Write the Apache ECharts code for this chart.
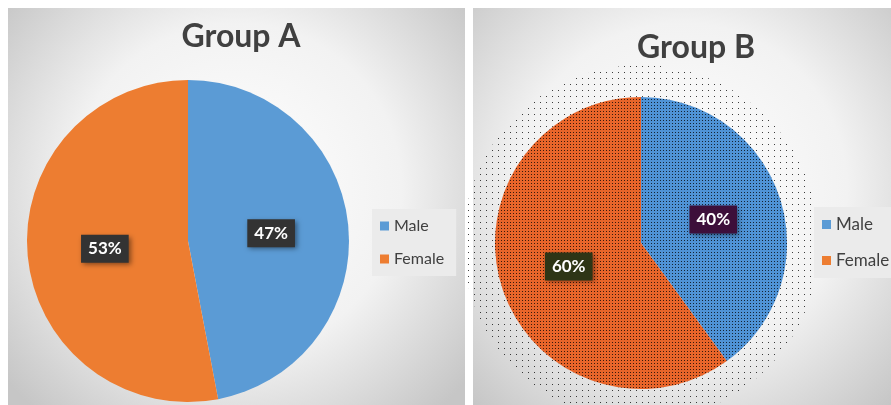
<!DOCTYPE html>
<html>
<head>
<meta charset="utf-8">
<script src="https://cdn.jsdelivr.net/npm/echarts@6/dist/echarts.min.js"></script>
<style>
html,body{margin:0;padding:0;background:#ffffff;}
#c{width:891px;height:405px;}
</style>
</head>
<body>
<div id="c"></div>
<script>
const categories = ['Male', 'Female'];
const groupAValues = [47, 53];
const groupBValues = [40, 60];
const titles = ['Group A', 'Group B'];

const FONT = 'Lato, "Open Sans", sans-serif';
const blue = '#5b9bd5', orange = '#ed7d31';

function panelBg(x, w) {
  return {
    type: 'rect', z: -10, silent: true,
    shape: { x: x, y: 8, width: w, height: 400 },
    style: {
      fill: { type: 'radial', x: 0.5, y: 0.45, r: 0.75,
        colorStops: [{ offset: 0, color: '#ffffff' }, { offset: 0.55, color: '#f2f2f2' }, { offset: 1, color: '#c6c6c6' }] }
    }
  };
}

const dotDecal = {
  symbol: 'rect', symbolSize: 1,
  dashArrayX: [1, 2], dashArrayY: [1, 2],
  color: 'rgba(0,0,0,0.75)'
};
const haloDecal = {
  symbol: 'rect', symbolSize: 1,
  dashArrayX: [1, 5], dashArrayY: [1, 5],
  color: 'rgba(0,0,0,0.75)'
};

function labelStyle(bg) {
  return {
    show: true, position: 'inside',
    formatter: p => p.value + '%',
    color: '#ffffff', fontFamily: FONT, fontWeight: 'bold', fontSize: 17,
    backgroundColor: bg, padding: [6, 7, 5, 7],
    shadowColor: 'rgba(0,0,0,0.45)', shadowBlur: 5, shadowOffsetX: 2, shadowOffsetY: 2
  };
}

const legendCommon = {
  orient: 'vertical', icon: 'rect', itemWidth: 9, itemHeight: 9,
  backgroundColor: '#ebebeb',
  textStyle: { fontFamily: FONT, color: '#404040' },
  data: categories
};

const option = {
  animation: false,
  graphic: [panelBg(8, 457), panelBg(473, 418)],
  title: [
    { text: titles[0], left: 236, top: 16, textAlign: 'center',
      textStyle: { fontFamily: FONT, fontSize: 32, fontWeight: 'bold', color: '#404040' } },
    { text: titles[1], left: 691, top: 27, textAlign: 'center',
      textStyle: { fontFamily: FONT, fontSize: 32, fontWeight: 'bold', color: '#404040' } }
  ],
  legend: [
    Object.assign({}, legendCommon, { left: 372, top: 209, itemGap: 17, padding: [9, 12, 9, 8],
      textStyle: Object.assign({}, legendCommon.textStyle, { fontSize: 16 }) }),
    Object.assign({}, legendCommon, { left: 814, top: 207, itemGap: 19, padding: [9, 14, 9, 8],
      textStyle: Object.assign({}, legendCommon.textStyle, { fontSize: 17 }) })
  ],
  series: [
    {
      type: 'pie', center: [188, 241], radius: 161, startAngle: 90, clockwise: true,
      silent: true,
      data: categories.map((c, i) => ({
        name: c, value: groupAValues[i],
        itemStyle: { color: i === 0 ? blue : orange },
        label: labelStyle('#333333')
      })),
      labelLine: { show: false }
    },
    {
      type: 'pie', center: [641, 243], radius: [146, 178], startAngle: 90, clockwise: true,
      silent: true, z: 1,
      data: [{ name: 'halo', value: 1, itemStyle: { color: 'rgba(0,0,0,0)', decal: haloDecal } }],
      label: { show: false }, labelLine: { show: false }
    },
    {
      type: 'pie', center: [641, 243], radius: 146, startAngle: 90, clockwise: true,
      silent: true, z: 2,
      data: categories.map((c, i) => ({
        name: c, value: groupBValues[i],
        itemStyle: { color: i === 0 ? '#4f93d6' : '#e8652a', decal: dotDecal },
        label: labelStyle(i === 0 ? '#3d0f3a' : '#2e3516')
      })),
      labelLine: { show: false }
    }
  ]
};

const chart = echarts.init(document.getElementById('c'), null, { renderer: 'canvas' });
chart.setOption(option);
</script>
</body>
</html>
